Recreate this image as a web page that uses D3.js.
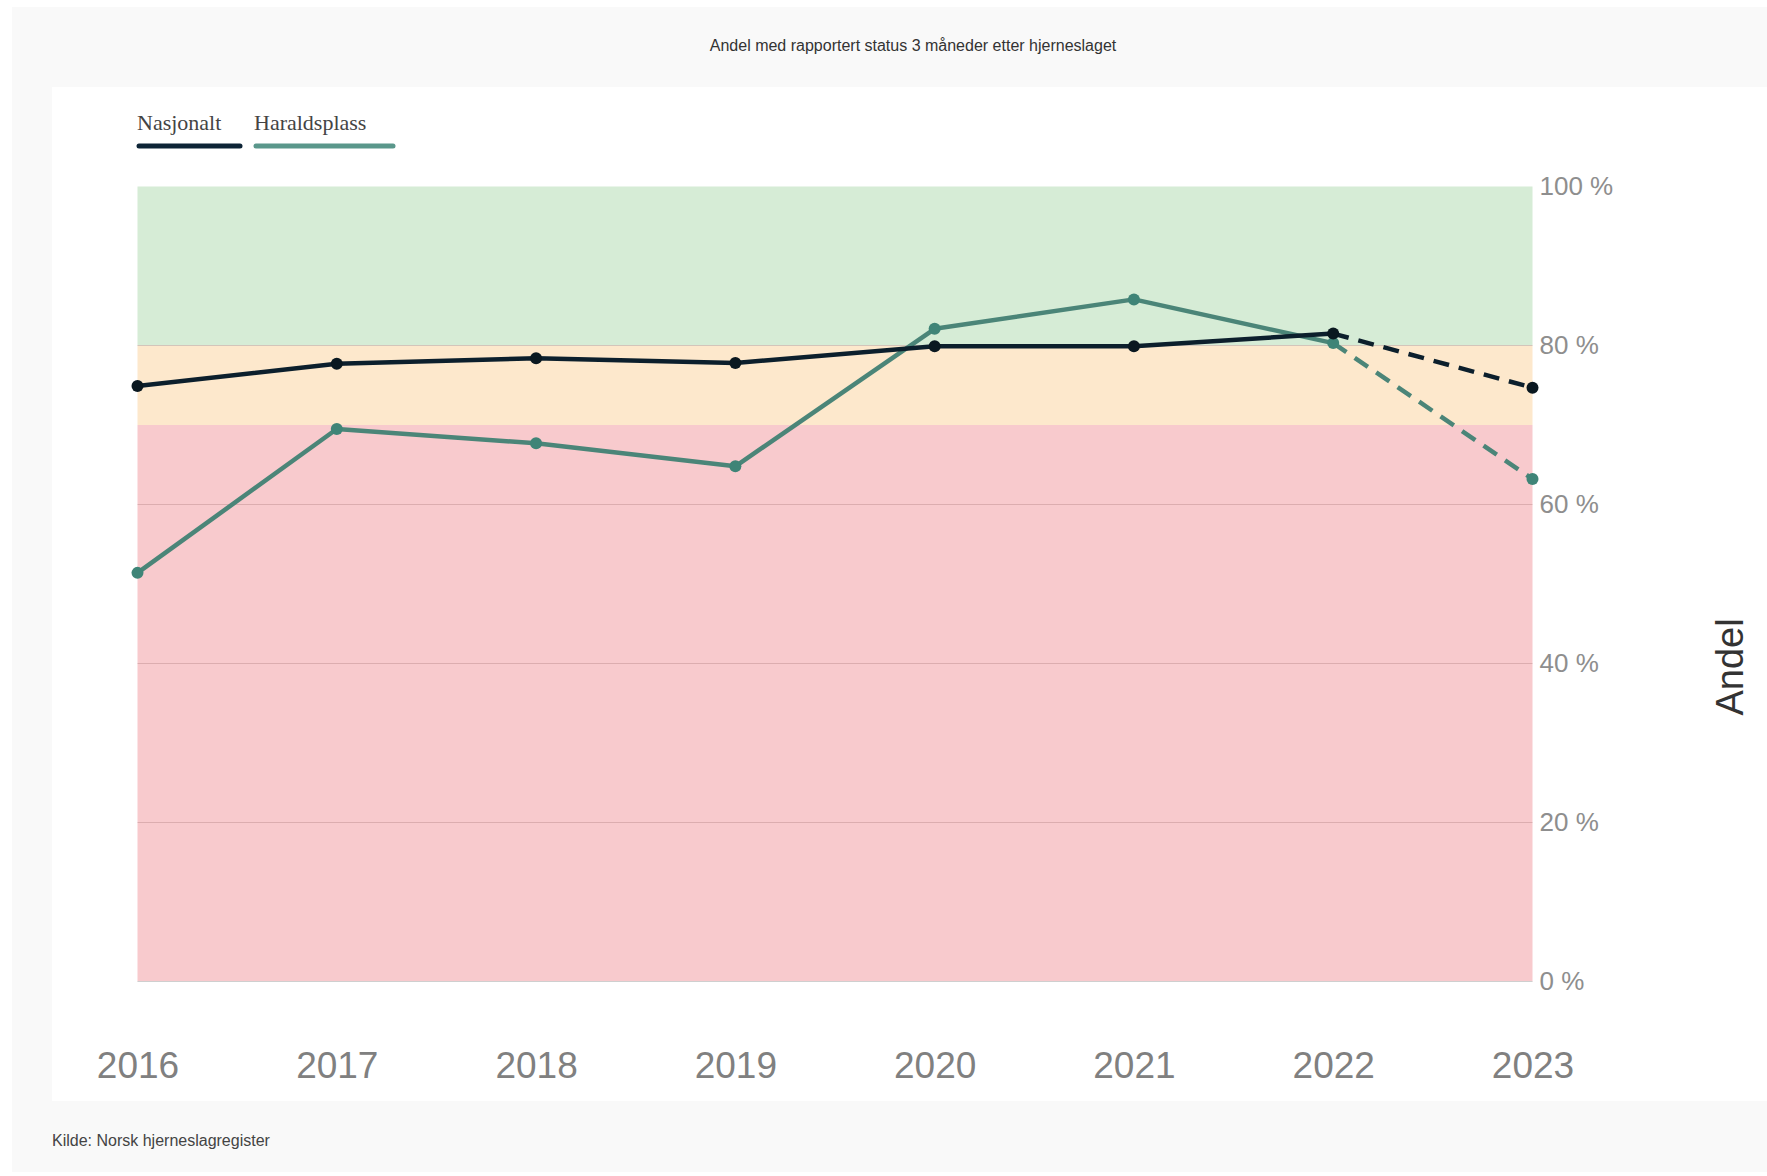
<!DOCTYPE html>
<html>
<head>
<meta charset="utf-8">
<script src="https://cdn.jsdelivr.net/npm/d3@7"></script>
<style>
  html, body { margin: 0; padding: 0; background: #ffffff; }
  svg { display: block; }
</style>
</head>
<body>
<svg id="chart"></svg>
<script>
(function() {

  // data
  const years = ['2016', '2017', '2018', '2019', '2020', '2021', '2022', '2023'];
  const nasjonalt = [74.9, 77.7, 78.4, 77.8, 79.9, 79.9, 81.5, 74.7];
  const haraldsplass = [51.4, 69.5, 67.7, 64.8, 82.1, 85.8, 80.3, 63.2];
  const seriesNames = ['Nasjonalt', 'Haraldsplass'];
  const seriesColors = ['#0c1f2c', '#4b8578'];
  const bandLimits = [[0, 70], [70, 80], [80, 100]];
  const bandColors = ['#f8cacd', '#fde8cc', '#d6ecd6'];
  const yTicks = [0, 20, 40, 60, 80, 100];

  const title = 'Andel med rapportert status 3 måneder etter hjerneslaget';
  const source = 'Kilde: Norsk hjerneslagregister';

  const width = 1767;
  const height = 1176;
  const margin = { left: 137.5, right: 234.5, top: 186.5, bottom: 194.5 };

  const svg = d3.select('#chart')
    .attr('width', width)
    .attr('height', height);

  // outer grey area and white panel
  svg.append('rect')
    .attr('x', 12).attr('y', 7)
    .attr('width', width - 12).attr('height', height - 11)
    .attr('fill', '#f9f9f9');
  svg.append('rect')
    .attr('x', 52).attr('y', 87)
    .attr('width', width - 52).attr('height', 1014)
    .attr('fill', '#ffffff');

  const x = d3.scalePoint()
    .domain(years)
    .range([margin.left, width - margin.right]);

  const y = d3.scaleLinear()
    .domain([0, 100])
    .range([height - margin.bottom, margin.top]);

  // coloured target bands
  svg.append('g').attr('class', 'bands')
    .selectAll('rect')
    .data(bandLimits)
    .enter()
    .append('rect')
    .attr('x', x(years[0]))
    .attr('width', x(years[years.length - 1]) - x(years[0]))
    .attr('y', function(d) { return y(d[1]); })
    .attr('height', function(d) { return y(d[0]) - y(d[1]); })
    .attr('fill', function(d, i) { return bandColors[i]; });

  // right axis with grid lines
  const yAxis = d3.axisRight(y)
    .tickValues(yTicks)
    .tickSize(0)
    .tickPadding(7)
    .tickFormat(function(d) { return d + ' %'; });

  const yAxisG = svg.append('g')
    .attr('transform', 'translate(' + x(years[years.length - 1]) + ',0)')
    .call(yAxis);
  yAxisG.select('.domain').remove();
  yAxisG.selectAll('text')
    .attr('fill', '#8e8e8e')
    .style('font-family', 'Liberation Sans, Arial, sans-serif')
    .style('font-size', '26px');

  svg.append('g').attr('class', 'grid')
    .selectAll('line')
    .data(yTicks.filter(function(d) { return d < 100; }))
    .enter()
    .append('line')
    .attr('x1', x(years[0]))
    .attr('x2', x(years[years.length - 1]))
    .attr('y1', function(d) { return y(d); })
    .attr('y2', function(d) { return y(d); })
    .attr('stroke', function(d) { return d === 0 ? '#cfcfcf' : 'rgba(170,120,120,0.35)'; })
    .attr('stroke-width', 1.2);

  // bottom axis
  const xAxis = d3.axisBottom(x).tickSize(0).tickPadding(0);
  const xAxisG = svg.append('g')
    .attr('transform', 'translate(0,1066)')
    .call(xAxis);
  xAxisG.select('.domain').remove();
  xAxisG.selectAll('text')
    .attr('fill', '#808080')
    .attr('dy', '0.32em')
    .style('font-family', 'Liberation Sans, Arial, sans-serif')
    .style('font-size', '37px');

  // axis title
  svg.append('text')
    .attr('transform', 'translate(1743,667) rotate(-90)')
    .attr('text-anchor', 'middle')
    .attr('fill', '#333333')
    .style('font-family', 'Liberation Sans, Arial, sans-serif')
    .style('font-size', '38px')
    .text('Andel');

  // lines: solid up to 2022, dashed last step
  const seriesData = [nasjonalt, haraldsplass];
  const line = d3.line()
    .x(function(d) { return x(d.year); })
    .y(function(d) { return y(d.value); });

  const lastIdx = years.length - 1;

  // draw Haraldsplass first so Nasjonalt sits on top
  [1, 0].forEach(function(s) {
    const pts = years.map(function(yr, i) { return { year: yr, value: seriesData[s][i] }; });
    const g = svg.append('g').attr('class', 'series-' + s);

    g.append('path')
      .datum(pts.slice(0, lastIdx))
      .attr('d', line)
      .attr('fill', 'none')
      .attr('stroke', seriesColors[s])
      .attr('stroke-width', 4.5)
      .attr('stroke-linejoin', 'round');

    g.append('path')
      .datum(pts.slice(lastIdx - 1))
      .attr('d', line)
      .attr('fill', 'none')
      .attr('stroke', seriesColors[s])
      .attr('stroke-width', 4.5)
      .attr('stroke-dasharray', '16,10');

    g.selectAll('circle')
      .data(pts)
      .enter()
      .append('circle')
      .attr('cx', function(d) { return x(d.year); })
      .attr('cy', function(d) { return y(d.value); })
      .attr('r', 6)
      .attr('fill', s === 0 ? '#0a1820' : '#3f8477');
  });

  // legend
  const legendX = [137, 254];
  const legendW = [103, 139];
  const legend = svg.append('g').attr('class', 'legend');
  seriesNames.forEach(function(name, i) {
    legend.append('text')
      .attr('x', legendX[i])
      .attr('y', 130)
      .attr('fill', '#444444')
      .style('font-family', 'Liberation Serif, Times New Roman, serif')
      .style('font-size', '22px')
      .text(name);
    legend.append('line')
      .attr('x1', legendX[i] + 2)
      .attr('x2', legendX[i] + legendW[i])
      .attr('y1', 146)
      .attr('y2', 146)
      .attr('stroke', i === 0 ? '#0d2436' : '#5a978b')
      .attr('stroke-width', 5)
      .attr('stroke-linecap', 'round');
  });

  // title and source
  svg.append('text')
    .attr('x', 913)
    .attr('y', 51)
    .attr('text-anchor', 'middle')
    .attr('fill', '#333333')
    .style('font-family', 'Liberation Sans, Arial, sans-serif')
    .style('font-size', '16px')
    .text(title);

  svg.append('text')
    .attr('x', 52)
    .attr('y', 1146)
    .attr('fill', '#444444')
    .style('font-family', 'Liberation Sans, Arial, sans-serif')
    .style('font-size', '16px')
    .text(source);

})();
</script>
</body>
</html>
